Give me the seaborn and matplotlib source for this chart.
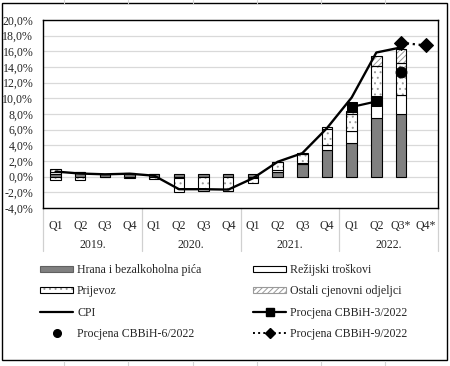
import numpy as np
import matplotlib
matplotlib.use('Agg')
import matplotlib.pyplot as plt
import seaborn as sns
from matplotlib.patches import Patch, Rectangle
from matplotlib.lines import Line2D
from matplotlib.legend_handler import HandlerTuple
import matplotlib.transforms as mtransforms

# ---------------- data ----------------
quarters = ['Q1', 'Q2', 'Q3', 'Q4', 'Q1', 'Q2', 'Q3', 'Q4',
            'Q1', 'Q2', 'Q3', 'Q4', 'Q1', 'Q2', 'Q3*', 'Q4*']
years = ['2019.', '2020.', '2021.', '2022.']

hrana = [0.30, 0.45, 0.30, 0.35, 0.35, 0.35, 0.35, 0.35,
         0.40, 0.60, 1.65, 3.40, 4.30, 7.55, 8.00, 0.0]
rezijski = [0.30, 0.10, 0.10, 0.15, 0.05, -0.15, -0.05, 0.0,
            -0.15, 0.20, 0.15, 0.65, 1.50, 2.05, 2.40, 0.0]
prijevoz = [-0.40, -0.45, -0.10, -0.20, -0.25, -1.75, -1.80, -1.80,
            -0.60, 1.05, 1.15, 2.00, 2.20, 4.50, 4.10, 0.0]
ostali = [0.35, 0.10, 0.0, 0.0, 0.0, 0.0, 0.0, -0.05,
          0.0, 0.05, 0.05, 0.30, 0.40, 1.30, 1.80, 0.0]
cpi = [0.65, 0.40, 0.30, 0.38, 0.12, -1.60, -1.60, -1.65,
       -0.20, 1.90, 3.00, 6.20, 10.10, 15.85, 16.50]
proc_3_2022 = [8.9, 9.6]      # Q1, Q2 2022
proc_6_2022 = [13.4]          # Q3* 2022
proc_9_2022 = [17.1, 16.75]   # Q3*, Q4* 2022

labels = ['Hrana i bezalkoholna pića', 'Režijski troškovi', 'Prijevoz',
          'Ostali cjenovni odjeljci', 'CPI', 'Procjena CBBiH-3/2022',
          'Procjena CBBiH-6/2022', 'Procjena CBBiH-9/2022']

# ---------------- style ----------------
FS = 8.6
sns.set_style('white')
plt.rcParams['font.family'] = ['Liberation Serif', 'DejaVu Serif']
plt.rcParams['font.size'] = FS
plt.rcParams['hatch.linewidth'] = 0.7

W, H = 450, 366
fig = plt.figure(figsize=(4.5, 3.66), dpi=100)
ax_l, ax_r, ax_t, ax_b = 43.3, 438.0, 20.0, 208.0
ax = fig.add_axes([ax_l / W, 1 - ax_b / H, (ax_r - ax_l) / W, (ax_b - ax_t) / H])

n = len(quarters)
idx = np.arange(n)
pos_base = np.zeros(n)
neg_base = np.zeros(n)
bw = 0.42
DOTS = '...'
DOT_COL = '#9a9a9a'
HATCH = '//////'
HATCH_COL = '#9a9a9a'

series = [
    (hrana, '#808080', None, None),
    (rezijski, 'white', None, None),
    (prijevoz, 'white', DOTS, DOT_COL),
    (ostali, 'white', HATCH, HATCH_COL),
]
for vals, face, hatch, hcol in series:
    v = np.array(vals, dtype=float)
    bottom = np.where(v >= 0, pos_base, neg_base)
    lw = np.where(v != 0, 0.8, 0.0)
    if hatch is None:
        sns.barplot(x=idx, y=v, bottom=bottom, width=bw, errorbar=None,
                    saturation=1, color=face, edgecolor='black',
                    linewidth=lw, ax=ax, zorder=2)
    else:
        sns.barplot(x=idx, y=v, bottom=bottom, width=bw, errorbar=None,
                    saturation=1, color=face, edgecolor=hcol,
                    hatch=hatch, linewidth=0, ax=ax, zorder=2)
        sns.barplot(x=idx, y=v, bottom=bottom, width=bw, errorbar=None,
                    fill=False, color='black', linewidth=lw, ax=ax, zorder=2.1)
    pos_base += np.clip(v, 0, None)
    neg_base += np.clip(v, None, 0)

# lines
sns.lineplot(x=idx[:len(cpi)], y=cpi, color='black', linewidth=1.7,
             errorbar=None, ax=ax, zorder=4)
sns.lineplot(x=idx[12:14], y=proc_3_2022, color='black', linewidth=1.6,
             marker='s', markersize=6.5, markeredgecolor='black',
             errorbar=None, ax=ax, zorder=5)
sns.scatterplot(x=idx[14:15], y=proc_6_2022, color='black', s=62,
                marker='o', edgecolor='black', ax=ax, zorder=5)
sns.lineplot(x=idx[14:16], y=proc_9_2022, color='black', linewidth=1.6,
             linestyle=':', marker='D', markersize=7.5, markeredgecolor='black',
             errorbar=None, ax=ax, zorder=5)

# axes
ax.set_xlim(-0.5, n - 0.5)
ax.set_ylim(-4, 20)
ax.set_yticks(np.arange(-4, 21, 2))
ax.set_yticklabels([f'{t:.1f}%'.replace('.', ',') for t in np.arange(-4, 21, 2)])
ax.yaxis.grid(True, color='#d9d9d9', linewidth=0.9)
ax.xaxis.grid(False)
ax.set_axisbelow(True)
ax.tick_params(axis='y', length=0, pad=7.2, labelsize=FS)
ax.set_xticks(idx)
ax.set_xticklabels(quarters)
ax.tick_params(axis='x', length=0, pad=8.5, labelsize=FS)
ax.set_xlabel('')
ax.set_ylabel('')
for s in ax.spines.values():
    s.set_visible(True)
    s.set_color('black')
    s.set_linewidth(1.0)

trans = mtransforms.blended_transform_factory(ax.transData, ax.transAxes)
for k, yr in enumerate(years):
    ax.text(4 * k + 1.5, -(245 - ax_b) / (ax_b - ax_t), yr, transform=trans,
            ha='center', va='center', fontsize=FS)
for xs in [-0.5, 3.5, 7.5, 11.5, 15.5]:
    ax.plot([xs, xs], [0, -(251 - ax_b) / (ax_b - ax_t)], transform=trans,
            color='#d0d0d0', linewidth=0.9, clip_on=False, zorder=0)

# legends
h_hrana = Patch(facecolor='#808080', edgecolor='#606060', linewidth=0.8)
h_rez = Patch(facecolor='white', edgecolor='black', linewidth=0.8)
h_prij = (Patch(facecolor='white', edgecolor=DOT_COL, hatch=DOTS, linewidth=0),
          Patch(facecolor='none', edgecolor='black', linewidth=0.8))
h_ost = Patch(facecolor='white', edgecolor=HATCH_COL, hatch=HATCH, linewidth=0.8)
h_cpi = Line2D([], [], color='black', linewidth=1.6)
h_p3 = Line2D([], [], color='black', linewidth=1.6, marker='s', markersize=6)
h_p6 = Line2D([], [], color='black', linestyle='none', marker='o', markersize=5.5)
h_p9 = Line2D([], [], color='black', linewidth=1.4, linestyle=':', marker='D', markersize=5.5)

common = dict(frameon=False, loc='upper left', handlelength=2.8, handleheight=0.45,
              handletextpad=0.3, labelspacing=0.78, borderpad=0, borderaxespad=0,
              fontsize=FS, handler_map={tuple: HandlerTuple(ndivide=1, pad=0)})
leg1 = fig.legend([h_hrana, h_prij, h_cpi, h_p6],
                  [labels[0], labels[2], labels[4], labels[6]],
                  bbox_to_anchor=(40 / W, 1 - 264 / H), **common)
leg2 = fig.legend([h_rez, h_ost, h_p3, h_p9],
                  [labels[1], labels[3], labels[5], labels[7]],
                  bbox_to_anchor=(253 / W, 1 - 264 / H), **common)

# chart border and spreadsheet cell lines
fig.patches.append(Rectangle((1.5 / W, 1 - 360 / H), 445 / W, 357 / H,
                             transform=fig.transFigure, fill=False,
                             edgecolor='black', linewidth=1.0))
for xc in [64, 128, 193, 257, 321, 385]:
    fig.add_artist(Line2D([xc / W, xc / W], [1 - 3 / H, 1], color='#d4d4d4', linewidth=0.8))
    fig.add_artist(Line2D([xc / W, xc / W], [0, 1 - 361 / H], color='#d4d4d4', linewidth=0.8))

fig.savefig('out.png', dpi=100)
